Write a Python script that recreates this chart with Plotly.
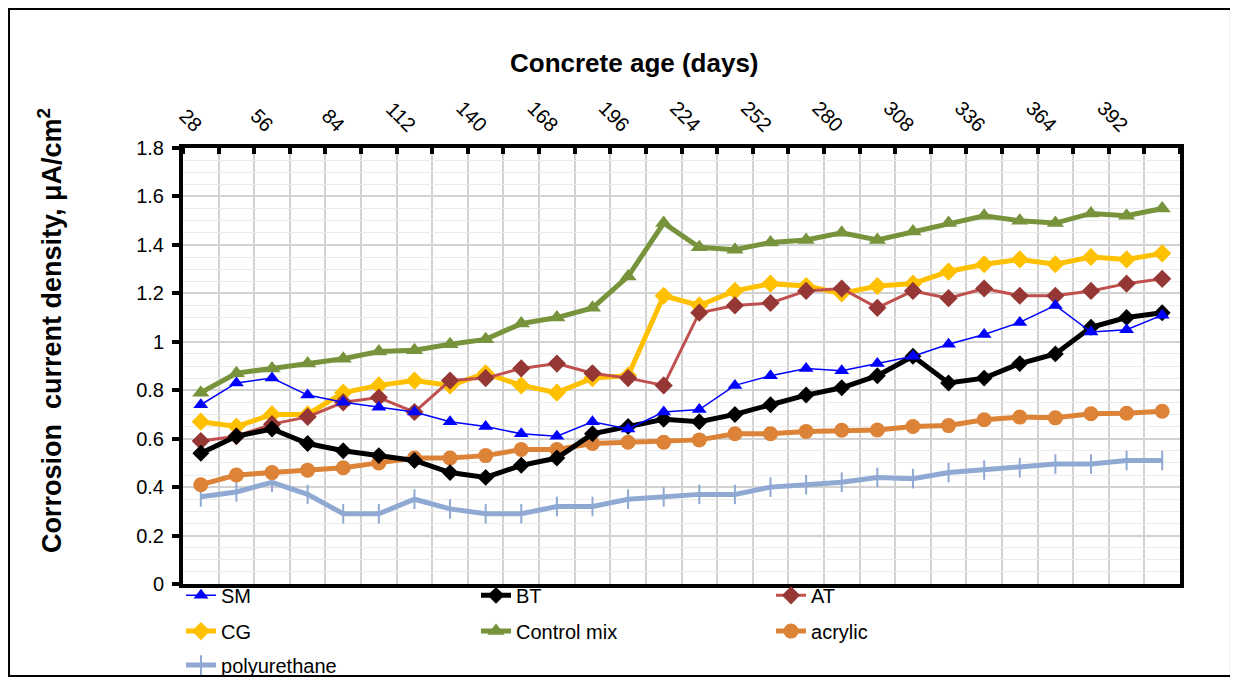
import plotly.graph_objects as go

days = [28, 42, 56, 70, 84, 98, 112, 126, 140, 154, 168, 182, 196, 210,
        224, 238, 252, 266, 280, 294, 308, 322, 336, 350, 364, 378, 392, 406]
tick_vals = [28, 56, 84, 112, 140, 168, 196, 224, 252, 280, 308, 336, 364, 392]
tick_labels = ["28", "56", "84", "112", "140", "168", "196",
               "224", "252", "280", "308", "336", "364", "392"]

sm = [0.74, 0.83, 0.85, 0.78, 0.75, 0.73, 0.71, 0.67, 0.65, 0.62, 0.61, 0.67, 0.64, 0.71,
      0.72, 0.82, 0.86, 0.89, 0.88, 0.91, 0.94, 0.99, 1.03, 1.08, 1.15, 1.04, 1.05, 1.11]
bt = [0.54, 0.61, 0.64, 0.58, 0.55, 0.53, 0.51, 0.46, 0.44, 0.49, 0.52, 0.62, 0.65, 0.68,
      0.67, 0.70, 0.74, 0.78, 0.81, 0.86, 0.94, 0.83, 0.85, 0.91, 0.95, 1.06, 1.10, 1.12]
at = [0.59, 0.61, 0.66, 0.69, 0.75, 0.77, 0.71, 0.84, 0.85, 0.89, 0.91, 0.87, 0.85, 0.82,
      1.12, 1.15, 1.16, 1.21, 1.22, 1.14, 1.21, 1.18, 1.22, 1.19, 1.19, 1.21, 1.24, 1.26]
cg = [0.67, 0.65, 0.70, 0.70, 0.79, 0.82, 0.84, 0.82, 0.87, 0.82, 0.79, 0.85, 0.86, 1.19,
      1.15, 1.21, 1.24, 1.23, 1.20, 1.23, 1.24, 1.29, 1.32, 1.34, 1.32, 1.35, 1.34, 1.365]
control = [0.79, 0.87, 0.89, 0.91, 0.93, 0.96, 0.965, 0.99, 1.01, 1.075, 1.10, 1.14, 1.27, 1.49,
           1.39, 1.38, 1.41, 1.42, 1.45, 1.42, 1.455, 1.49, 1.52, 1.50, 1.49, 1.53, 1.52, 1.55]
acrylic = [0.41, 0.45, 0.46, 0.47, 0.48, 0.50, 0.52, 0.52, 0.53, 0.555, 0.555, 0.58, 0.585, 0.585,
           0.595, 0.62, 0.62, 0.63, 0.635, 0.636, 0.65, 0.654, 0.678, 0.689, 0.686, 0.703, 0.705, 0.713]
polyurethane = [0.36, 0.38, 0.42, 0.37, 0.29, 0.29, 0.35, 0.31, 0.29, 0.29, 0.32, 0.32, 0.35, 0.36,
                0.37, 0.37, 0.40, 0.41, 0.42, 0.44, 0.435, 0.46, 0.47, 0.48, 0.495, 0.495, 0.51, 0.51]

fig = go.Figure()

def add(name, y, lcolor, lwidth, symbol, msize, mcolor, legend, mline=None):
    marker = dict(symbol=symbol, size=msize, color=mcolor)
    if mline:
        marker["line"] = mline
    fig.add_trace(go.Scatter(x=days, y=y, name=name, mode="lines+markers",
                             line=dict(color=lcolor, width=lwidth), marker=marker,
                             legend=legend))

add("polyurethane", polyurethane, "#8FA9D3", 5, "line-ns", 14, "#8FA9D3", "legend3",
    mline=dict(color="#8FA9D3", width=2))
add("acrylic", acrylic, "#DC8338", 5, "circle", 15, "#DC8338", "legend2")
add("Control mix", control, "#77933C", 5, "triangle-up", 15, "#77933C", "legend2")
add("CG", cg, "#FFC000", 5, "diamond", 14, "#FFC000", "legend2")
add("AT", at, "#C0504D", 3, "diamond", 14, "#953735", "legend")
add("BT", bt, "#000000", 5, "diamond", 13, "#000000", "legend")
add("SM", sm, "#0000FF", 1.5, "triangle-up", 13, "#0000FF", "legend")

font = "Arial, Liberation Sans, sans-serif"
legend_common = dict(orientation="h", entrywidth=250, entrywidthmode="pixels",
                     font=dict(family=font, size=20, color="#000000"),
                     bgcolor="rgba(0,0,0,0)", xanchor="left", yanchor="middle",
                     x=-0.002, traceorder="reversed")

fig.update_layout(
    width=1230, height=675,
    margin=dict(l=175, r=58, t=140, b=99, autoexpand=False),
    paper_bgcolor="white", plot_bgcolor="white",
    font=dict(family=font, color="#000000"),
    showlegend=True,
    legend=dict(**legend_common, y=-0.026),
    legend2=dict(**legend_common, y=-0.108),
    legend3=dict(**legend_common, y=-0.186),
    xaxis2=dict(
        overlaying="x", side="bottom", range=[21, 413], tick0=28, dtick=14,
        showticklabels=False, ticks="", showgrid=True, gridcolor="#ebebeb", gridwidth=1,
        showline=False, zeroline=False,
    ),
    xaxis=dict(
        side="top", range=[21, 413], tickmode="array", tickvals=tick_vals, ticktext=tick_labels,
        tickangle=45, tickfont=dict(size=20, family=font), ticks="", ticklen=0,
        showgrid=False,
        showline=True, linecolor="black", linewidth=4, mirror=True, zeroline=False,
        minor=dict(tick0=21, dtick=14, ticks="inside", ticklen=6, tickwidth=4,
                   tickcolor="black", showgrid=True, gridcolor="#d2d2d2", gridwidth=2),
    ),
    yaxis=dict(
        range=[0, 1.8], dtick=0.2, tick0=0, tickfont=dict(size=20, family=font),
        ticks="outside", ticklen=7, tickwidth=4, tickcolor="black", ticklabelstandoff=4,
        showgrid=True, gridcolor="#d2d2d2", gridwidth=2,
        showline=True, linecolor="black", linewidth=4, mirror=True, zeroline=False,
        minor=dict(dtick=0.05, showgrid=True, gridcolor="#ebebeb", gridwidth=1, ticks=""),
    ),
    annotations=[
        dict(text="<b>Concrete age (days)</b>", xref="paper", yref="paper",
             x=0.4524, y=1.195, xanchor="center", yanchor="middle", showarrow=False,
             font=dict(size=26, family=font)),
        dict(text="<b>Corrosion  current density, μA/cm<sup>2</sup></b>", xref="paper",
             yref="paper", x=-0.1334, y=0.58, xanchor="center", yanchor="middle",
             textangle=-90, showarrow=False, font=dict(size=27, family=font)),
    ],
    shapes=[
        dict(type="rect", xref="paper", yref="paper", x0=-0.1745, x1=1.0511,
             y0=-0.211, y1=1.3188, line=dict(color="black", width=2),
             fillcolor="rgba(0,0,0,0)", layer="above"),
    ],
)

fig.write_html("out.html")
